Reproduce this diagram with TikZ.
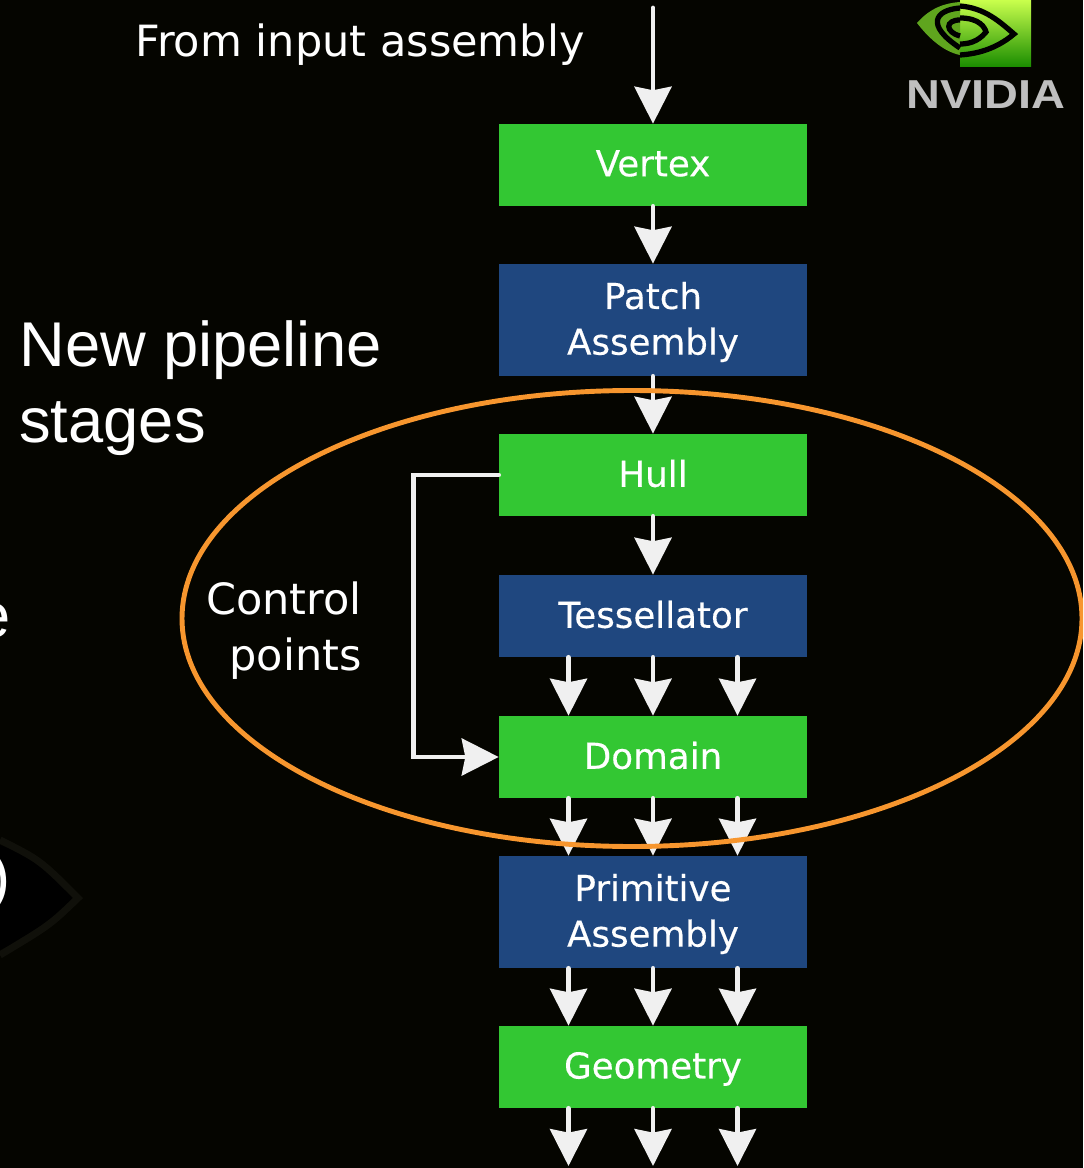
\documentclass[tikz,border=0pt]{standalone}
\usepackage{fontspec}
\setmainfont{DejaVu Sans}
\newfontfamily\stagefont[FakeBold=0.35]{DejaVu Sans}
\newfontfamily\arialfont{Liberation Sans}
\usetikzlibrary{arrows.meta,shadings}
\definecolor{stagegreen}{HTML}{33C733}
\definecolor{stageblue}{HTML}{1F477F}
\definecolor{ringorange}{HTML}{F7962E}
\definecolor{flowwhite}{HTML}{F0F0F0}
\definecolor{backdrop}{HTML}{050500}
\definecolor{swoosh}{HTML}{10100A}
\definecolor{logoleaf}{HTML}{5FA51E}
\tikzset{
    stage/.style={minimum width=6.16cm,minimum height=1.64cm,inner sep=0pt,align=center,text depth=2pt,
        text=white,font=\stagefont\fontsize{20.3}{26}\selectfont},
    newstage/.style={stage,fill=stagegreen},
    fixedstage/.style={stage,fill=stageblue},
    tall/.style={minimum height=2.24cm},
    flow/.style={draw=flowwhite,line width=2.7pt,line cap=round,-{Stealth[length=21pt,width=21pt,inset=2pt]}},
    note/.style={text=white,inner sep=0pt,font=\fontsize{24.5}{32}\selectfont},
    big/.style={text=white,inner sep=0pt,font=\arialfont\fontsize{36}{43}\selectfont}
}
\begin{document}
\begin{tikzpicture}[x=0.02cm,y=-0.02cm]
    \clip (0,0) rectangle (1083,1168);
    \fill[backdrop] (0,0) rectangle (1083,1168);

    % faint swoosh behind the cut-off text
    \fill[black] (0,845) .. controls (40,860) .. (72,898) .. controls (50,925) .. (0,950) -- cycle;
    \draw[swoosh,line width=4pt] (0,840) .. controls (40,860) .. (78,898) .. controls (50,925) .. (0,955);

    % logo
    \shade[top color=green!30!yellow!70!white,bottom color=green!50!black!90!yellow] (960,0) rectangle (1031,67);
    \fill[logoleaf] (917,23) .. controls (930,8) and (945,3) .. (960,2) -- (960,55) .. controls (945,52) and (930,40) .. (917,23);
    \draw[black,line width=3pt] (960,8) .. controls (935,10) and (925,25) .. (960,48);
    \draw[black,line width=3pt] (960,20) .. controls (945,20) and (945,32) .. (960,36);
    \draw[black,line width=3pt] (960,6) .. controls (985,8) and (1000,22) .. (1014,34) .. controls (995,50) and (975,54) .. (960,55);
    \draw[black,line width=3pt] (960,18) .. controls (980,18) and (985,28) .. (986,32) .. controls (978,42) and (968,44) .. (960,44);
    \node[text=black!25,inner sep=0pt,xscale=1.16,font=\arialfont\bfseries\fontsize{23}{23}\selectfont] (logo) at (986,95) {NVIDIA};

    % pipeline
    \node[newstage] (vertex) at (653,165) {Vertex};
    \node[fixedstage,tall] (patch) at (653,320) {Patch\\Assembly};
    \node[newstage] (hull) at (653,475) {Hull};
    \node[fixedstage] (tess) at (653,616) {Tessellator};
    \node[newstage] (domain) at (653,757) {Domain};
    \node[fixedstage,tall] (prim) at (653,912) {Primitive\\Assembly};
    \node[newstage] (geom) at (653,1067) {Geometry};

    \coordinate (top) at (653,8);
    \coordinate (bottom) at (653,1166);

    % text
    \node[note] (from) at (360,45) {From input assembly};
    \node[note,align=right,anchor=east] (ctrl) at (362,631) {Control\\points};
    \node[big,align=left,anchor=west] (newstages) at (19,388) {New pipeline\\stages};
    \node[big,anchor=east] (cute) at (11,621) {e};
    \node[big,anchor=east] (cutparen) at (11,882) {)};

    % connectors
    \draw[flow] (top) -- (vertex);
    \draw[flow] (vertex) -- (patch);
    \draw[flow] (patch) -- (hull);
    \draw[flow] (hull) -- (tess);
    \foreach \dx in {-84.5,0,84.5} {
        \draw[flow] ([xshift=\dx*0.02cm]tess.south) -- ([xshift=\dx*0.02cm]domain.north);
        \draw[flow] ([xshift=\dx*0.02cm]domain.south) -- ([xshift=\dx*0.02cm]prim.north);
        \draw[flow] ([xshift=\dx*0.02cm]prim.south) -- ([xshift=\dx*0.02cm]geom.north);
        \draw[flow] ([xshift=\dx*0.02cm]geom.south) -- ([xshift=\dx*0.02cm]bottom);
    }
    \draw[flow] (hull.west) -- ++(-85,0) |- (domain.west);

    % ring
    \draw[ringorange,line width=2.8pt] (632,618.5) ellipse [x radius=450,y radius=228];
\end{tikzpicture}
\end{document}
